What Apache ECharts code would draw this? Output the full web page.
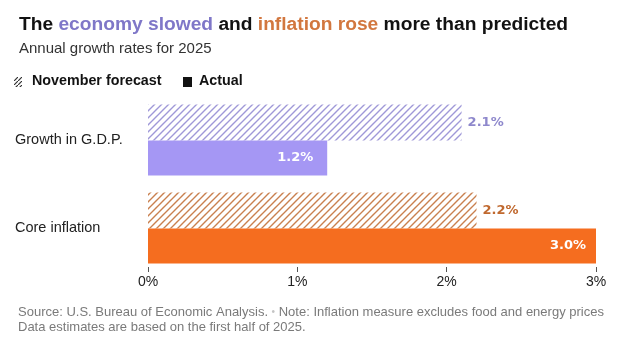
<!DOCTYPE html>
<html>
<head>
<meta charset="utf-8">
<script src="https://cdn.jsdelivr.net/npm/echarts@6/dist/echarts.min.js"></script>
<style>
  html, body { margin: 0; padding: 0; background: #fff; }
  #chart { width: 630px; height: 352px; }
</style>
</head>
<body>
<div id="chart"></div>
<script>
var categories = ['Growth in G.D.P.', 'Core inflation'];
var forecast = [2.1, 2.2];
var actual = [1.2, 3.0];

var purple = '#a597f4';
var orange = '#f56d1f';
var purpleText = '#8e88cc';
var orangeText = '#c0692f';

// diagonal hatch fill
function hatch(color) {
	var c = document.createElement('canvas');
	c.width = 7; c.height = 7;
	var ctx = c.getContext('2d');
	ctx.fillStyle = '#fff';
	ctx.fillRect(0, 0, 7, 7);
	ctx.strokeStyle = color;
	ctx.lineWidth = 1.4;
	ctx.beginPath();
	ctx.moveTo(-1, 8); ctx.lineTo(8, -1);
	ctx.moveTo(-1, 1); ctx.lineTo(1, -1);
	ctx.moveTo(6, 8); ctx.lineTo(8, 6);
	ctx.stroke();
	return { image: c, repeat: 'repeat' };
}

function smallHatch(color) {
	var c = document.createElement('canvas');
	c.width = 4; c.height = 4;
	var ctx = c.getContext('2d');
	ctx.fillStyle = '#fff';
	ctx.fillRect(0, 0, 4, 4);
	ctx.strokeStyle = color;
	ctx.lineWidth = 1.2;
	ctx.beginPath();
	ctx.moveTo(-1, 5); ctx.lineTo(5, -1);
	ctx.stroke();
	return { image: c, repeat: 'repeat' };
}

var hatchPurple = hatch('#9f98d8');
var hatchOrange = hatch('#c9804f');
var hatchGrey = smallHatch('#333');

var font = '"Liberation Sans", sans-serif';

var chart = echarts.init(document.getElementById('chart'));
chart.setOption({
	animation: false,
	title: [{
		text: 'The {p|economy slowed} and {o|inflation rose} more than predicted',
		left: 14, top: 10,
		textStyle: {
			fontFamily: font, fontSize: 19.2, fontWeight: 'bold', color: '#121212',
			rich: {
				p: { fontFamily: font, fontSize: 19.2, fontWeight: 'bold', color: '#7f77c8' },
				o: { fontFamily: font, fontSize: 19.2, fontWeight: 'bold', color: '#d2773f' }
			}
		}
	}, {
		text: 'Annual growth rates for 2025',
		left: 14, top: 36,
		textStyle: { fontFamily: font, fontSize: 15, fontWeight: 'normal', color: '#333' }
	}, {
		text: 'Source: U.S. Bureau of Economic Analysis. {d|\u2022} Note: Inflation measure excludes food and energy prices\nData estimates are based on the first half of 2025.',
		left: 13, top: 300,
		textStyle: {
			fontFamily: font, fontSize: 13, fontWeight: 'normal', color: '#7a7a7a', lineHeight: 15,
			rich: { d: { fontFamily: font, fontSize: 10, color: '#c4c4c4', lineHeight: 15 } }
		}
	}],
	graphic: [
		{ type: 'rect', left: 14, top: 77, shape: { width: 8, height: 10 }, style: { fill: hatchGrey } },
		{ type: 'text', left: 32, top: 74, style: { text: 'November forecast', font: 'bold 14.3px ' + font, fill: '#121212' } },
		{ type: 'rect', left: 183, top: 77, shape: { width: 9, height: 10 }, style: { fill: '#121212' } },
		{ type: 'text', left: 199, top: 74, style: { text: 'Actual', font: 'bold 14.3px ' + font, fill: '#121212' } }
	],
	grid: { left: 148, right: 34, top: 96, height: 176, containLabel: false },
	xAxis: {
		type: 'value', min: 0, max: 3, interval: 1, offset: -5,
		axisLine: { show: false },
		axisTick: { show: true, length: 5, lineStyle: { color: '#555' } },
		splitLine: { show: false },
		axisLabel: {
			formatter: function (v) { return v + '%'; },
			fontFamily: font, fontSize: 14, color: '#222', margin: 8
		}
	},
	yAxis: {
		type: 'category', data: categories, inverse: true,
		axisLine: { show: false }, axisTick: { show: false },
		axisLabel: {
			align: 'left', margin: 133,
			fontFamily: font, fontSize: 14.5, color: '#222'
		}
	},
	series: [{
		name: 'November forecast', type: 'bar', barWidth: 36, barGap: '0%',
		data: forecast.map(function (v, i) {
			return {
				value: v,
				itemStyle: { color: i === 0 ? hatchPurple : hatchOrange },
				label: { color: i === 0 ? purpleText : orangeText }
			};
		}),
		label: {
			show: true, position: 'right', distance: 6,
			formatter: function (p) { return p.value.toFixed(1) + '%'; },
			fontFamily: '"DejaVu Sans", sans-serif', fontSize: 13, fontWeight: 'bold'
		}
	}, {
		name: 'Actual', type: 'bar', barWidth: 35,
		data: actual.map(function (v, i) {
			return {
				value: v,
				itemStyle: { color: i === 0 ? purple : orange },
				label: { distance: i === 0 ? 14 : 10 }
			};
		}),
		label: {
			show: true, position: 'insideRight',
			formatter: function (p) { return p.value.toFixed(1) + '%'; },
			fontFamily: '"DejaVu Sans", sans-serif', fontSize: 13, fontWeight: 'bold', color: '#fff'
		}
	}]
});
</script>
</body>
</html>
